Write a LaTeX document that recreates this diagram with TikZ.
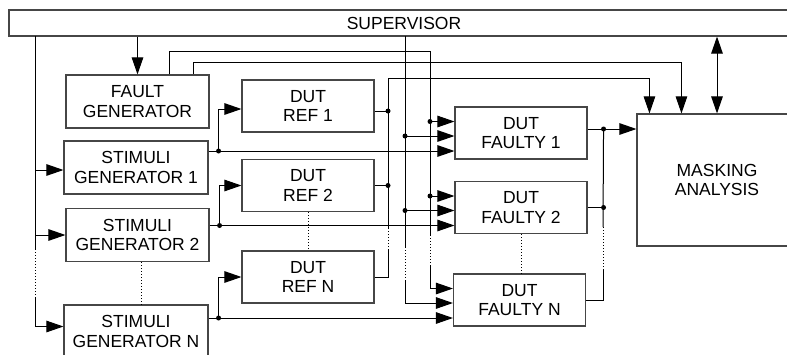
\documentclass[tikz,border=0pt]{standalone}
\usepackage{fontspec}
\setmainfont{Liberation Sans}
\usetikzlibrary{
  arrows.meta,
  calc
}
\definecolor{boxclr}{RGB}{70,70,70}
\tikzset{
  % Bloklar
  block/.style  = {draw=boxclr, line width=1.1pt, align=center, inner sep=0pt,
                   font=\fontsize{17.5}{19.5}\selectfont},
  gblock/.style = {block, minimum width=144pt, minimum height=53pt},
  dblock/.style = {block, minimum width=132pt, minimum height=52pt},
  % Chiziqlar
  wire/.style    = {line width=1pt},
  arr/.style     = {wire, -{Triangle[length=17pt,width=11.5pt]}},
  dualarr/.style = {wire, {Triangle[length=17pt,width=11.5pt]}-{Triangle[length=17pt,width=11.5pt]}},
  dotline/.style = {wire, dotted},
  % Tugunlar
  junc/.style = {circle, fill=black, inner sep=0pt, minimum size=5pt},
}

\begin{document}
\begin{tikzpicture}[x=1pt,y=-1pt]
  \useasboundingbox (0,0) rectangle (787,354);
  % Bloklar
  \node[block, minimum width=790pt, minimum height=26pt] (sup) at (404,23) {SUPERVISOR};
  \node[block, minimum width=160pt, minimum height=132pt] (mask) at (717,180) {MASKING\\ANALYSIS};
  \node[gblock, minimum width=143pt] (fault) at (137.5,101.5) {FAULT\\GENERATOR};
  \node[gblock] (stim1) at (136,167.5) {STIMULI\\GENERATOR 1};
  \node[gblock, minimum width=143pt] (stim2) at (137.5,235) {STIMULI\\GENERATOR 2};
  \node[gblock] (stimN) at (136,331.5) {STIMULI\\GENERATOR N};
  \node[dblock] (ref1) at (308,106) {DUT\\REF 1};
  \node[dblock] (ref2) at (308,185.5) {DUT\\REF 2};
  \node[dblock] (refN) at (308,277) {DUT\\REF N};
  \node[dblock] (fau1) at (521,133) {DUT\\FAULTY 1};
  \node[dblock] (fau2) at (521,207.5) {DUT\\FAULTY 2};
  \node[dblock] (fauN) at (519.5,300) {DUT\\FAULTY N};
  \foreach \f in {fau1,fau2,fauN} {
    \coordinate (\f a) at ([yshift=11.5pt]\f.west);
    \coordinate (\f b) at ([yshift=-3pt]\f.west);
    \coordinate (\f c) at ([yshift=-18pt]\f.west);
  }
  \coordinate (mkA) at ([xshift=13pt]mask.north west);
  \coordinate (mkB) at ([xshift=45pt]mask.north west);
  % Supervisor
  \draw[arr] (sup.south -| fault.north) -- (fault.north);
  \draw[dualarr] (sup.south -| mask.north) -- (mask.north);
  \coordinate (lbT) at (35,36);
  \coordinate (lbD1) at (35,249);
  \coordinate (lbD2) at (35,298);
  \draw[wire] (lbT) -- (lbD1);
  \draw[dotline] (lbD1) -- (lbD2);
  \draw[arr] (lbD2) |- ([yshift=5pt]stimN.west);
  \draw[arr] ([yshift=-2.5pt]stim1.west -| lbT) -- ([yshift=-2.5pt]stim1.west);
  \draw[arr] (stim2.west -| lbT) -- (stim2.west);
  \coordinate (svT) at (405,36);
  \coordinate (svD1) at (405,247);
  \coordinate (svD2) at (405,280);
  \draw[wire] (svT) -- (svD1);
  \draw[dotline] (svD1) -- (svD2);
  \draw[arr] (svD2) |- (fauNb);
  \foreach \f in {fau1,fau2} {
    \draw[arr] (\f b -| svT) -- (\f b);
    \node[junc] at (\f b -| svT) {};
  }
  % Fault generator
  \coordinate (fgA) at ([xshift=31.5pt]fault.north);
  \coordinate (fgB) at ([xshift=55.5pt]fault.north);
  \coordinate (fbT) at (430,51);
  \coordinate (fbD1) at (430,235);
  \coordinate (fbD2) at (430,265);
  \draw[wire] (fgA) |- (fbT) -- (fbD1);
  \draw[dotline] (fbD1) -- (fbD2);
  \draw[arr] (fbD2) |- (fauNa);
  \foreach \f in {fau1,fau2} {
    \draw[arr] (\f a -| fbT) -- (\f a);
    \node[junc] at (\f a -| fbT) {};
  }
  \draw[arr] (fgB) |- ($(mkB)+(0,-51)$) -- (mkB);
  % Stimuli -> DUT
  \foreach \s/\r/\f/\d in {stim1/ref1/fau1/-3pt, stim2/ref2/fau2/0pt, stimN/refN/fauN/0pt} {
    \draw[arr] (\s.east |- \f c) -- (\f c);
    \coordinate (\s j) at ($(\s.east |- \f c)+(10,0)$);
    \draw[arr] (\s j) |- ([yshift=\d]\r.west);
    \node[junc] at (\s j) {};
  }
  % DUT REF -> masking
  \coordinate (rbT) at (388,78);
  \coordinate (rbD1) at (388,228);
  \coordinate (rbD2) at (388,250);
  \draw[wire] (refN.east) -| (rbD2);
  \draw[dotline] (rbD2) -- (rbD1);
  \draw[arr] (rbD1) -- (rbT) -| (mkA);
  \coordinate (r1o) at ([yshift=-5pt]ref1.east);
  \draw[wire] (r1o) -- (r1o -| rbT);
  \node[junc] at (r1o -| rbT) {};
  \draw[wire] (ref2.east) -- (ref2.east -| rbT);
  \node[junc] at (ref2.east -| rbT) {};
  % DUT FAULTY -> masking
  \coordinate (f1o) at ([yshift=4pt]fau1.east);
  \coordinate (ob1) at ($(f1o)+(16,0)$);
  \coordinate (obD1) at (603,227);
  \coordinate (obD2) at (603,270);
  \draw[arr] (f1o) -- (f1o -| mask.west);
  \draw[wire] (ob1) -- (obD1);
  \draw[dotline] (obD1) -- (obD2);
  \draw[wire] (obD2) |- (fauN.east);
  \draw[wire] (fau2.east) -- (fau2.east -| ob1);
  \node[junc] at (ob1) {};
  \node[junc] at (fau2.east -| ob1) {};
  % Nuqtali chiziqlar
  \draw[dotline] ([xshift=3.5pt]stim2.south) -- ([xshift=3.5pt]stim2.south |- stimN.north);
  \draw[dotline] (ref2.south) -- (refN.north);
  \draw[dotline] (fau2.south) -- (fau2.south |- fauN.north);
\end{tikzpicture}
\end{document}
